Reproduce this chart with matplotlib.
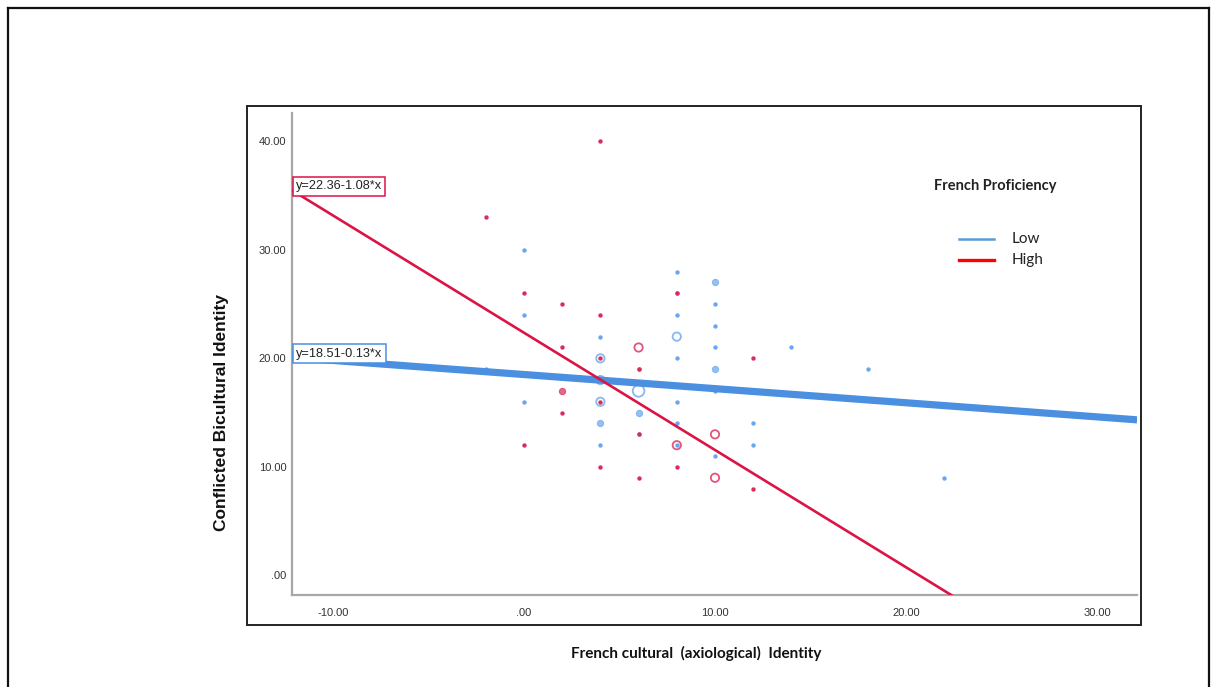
import matplotlib
matplotlib.use("Agg")
import matplotlib.pyplot as plt
from matplotlib.lines import Line2D
from matplotlib.patches import Rectangle
import numpy as np

# group: Low French proficiency (x, y, number of cases at the spot)
low_x = [-2, 0, 0, 0, 4, 4, 4, 4, 4, 4, 6, 6, 6, 6, 8, 8, 8, 8, 8, 8, 8, 8,
         10, 10, 10, 10, 10, 10, 10, 12, 12, 14, 18, 22]
low_y = [19, 30, 24, 16, 22, 20, 18, 16, 14, 12, 17, 15, 19, 13, 28, 26, 24, 22, 20, 16, 14, 12,
         27, 25, 23, 21, 19, 17, 11, 14, 12, 21, 19, 9]
low_n = [1, 1, 1, 1, 1, 3, 3, 3, 2, 1, 4, 2, 1, 1, 1, 1, 1, 3, 1, 1, 1, 1,
         2, 1, 1, 1, 2, 1, 1, 1, 1, 1, 1, 1]

# group: High French proficiency
high_x = [-2, 0, 0, 2, 2, 2, 2, 4, 4, 4, 4, 4, 6, 6, 6, 6, 8, 8, 8, 10, 10, 12, 12]
high_y = [33, 26, 12, 25, 21, 17, 15, 40, 24, 20, 16, 10, 21, 19, 13, 9, 26, 12, 10, 13, 9, 20, 8]
high_n = [1, 1, 1, 1, 1, 2, 1, 1, 1, 1, 1, 1, 3, 1, 1, 1, 1, 3, 1, 3, 3, 1, 1]

# fit lines reported in the chart
low_fit = (18.51, -0.13)
high_fit = (22.36, -1.08)

x_ticks = [-10, 0, 10, 20, 30]
x_ticklabels = ["-10.00", ".00", "10.00", "20.00", "30.00"]
y_ticks = [0, 10, 20, 30, 40]
y_ticklabels = [".00", "10.00", "20.00", "30.00", "40.00"]

blue = "#4a8fe0"
blue_pt = "#6aa6ee"
red = "#dc1446"
red_pt = "#dc2a5a"

plt.rcParams["font.family"] = ["Liberation Sans", "DejaVu Sans"]

fig = plt.figure(figsize=(12.17, 6.87), dpi=100)

# page border and chart frame
for xs, ys in [([0.0066, 0.0066], [0, 0.9884]), ([0.0066, 0.9934], [0.9884, 0.9884]),
               ([0.9934, 0.9934], [0, 0.9884])]:
    fig.add_artist(Line2D(xs, ys, color="#111111", lw=1.6, transform=fig.transFigure))
fig.add_artist(Rectangle((0.2030, 0.0902), 0.7346, 0.7555, transform=fig.transFigure,
                         fill=False, edgecolor="#222222", lw=1.4))

ax = fig.add_axes([0.2399, 0.1339, 0.6944, 0.7016])
ax.set_xlim(-12.15, 32.1)
ax.set_ylim(-1.8, 42.6)


def draw_points(xs, ys, ns, col):
    xs, ys, ns = np.array(xs), np.array(ys), np.array(ns)
    m = ns == 1
    ax.scatter(xs[m], ys[m], s=10, color=col, lw=0, zorder=3)
    m = ns == 2
    ax.scatter(xs[m], ys[m], s=20, facecolor=col, edgecolor=col, alpha=0.7, lw=0.8, zorder=3)
    m = ns == 3
    ax.scatter(xs[m], ys[m], s=36, facecolor="none", edgecolor=col, alpha=0.8, lw=1.3, zorder=3)
    m = ns == 4
    ax.scatter(xs[m], ys[m], s=70, facecolor="none", edgecolor=col, alpha=0.8, lw=1.3, zorder=3)


draw_points(low_x, low_y, low_n, blue_pt)
draw_points(high_x, high_y, high_n, red_pt)

x0, x1 = ax.get_xlim()
xl = np.array([x0, x1])
ax.plot(xl, low_fit[0] + low_fit[1] * xl, color=blue, lw=5.2, solid_capstyle="butt", zorder=4)
ax.plot(xl, high_fit[0] + high_fit[1] * xl, color=red, lw=1.9, zorder=4)

# equation boxes at the start of each line
for (b, k), col in [(high_fit, red), (low_fit, blue)]:
    ax.text(x0 + 0.22, b + k * x0 + 0.35, "y=%.2f-%.2f*x" % (b, -k), fontsize=9.2,
            color="#222222", va="center", ha="left", zorder=6,
            bbox=dict(boxstyle="square,pad=0.25", facecolor="white", edgecolor=col, lw=1.1))

for s in ["top", "right"]:
    ax.spines[s].set_visible(False)
for s in ["left", "bottom"]:
    ax.spines[s].set_color("#a8a8a8")
    ax.spines[s].set_linewidth(1.6)

ax.set_xticks(x_ticks)
ax.set_xticklabels(x_ticklabels)
ax.set_yticks(y_ticks)
ax.set_yticklabels(y_ticklabels)
ax.tick_params(length=0, labelsize=8, labelcolor="#333333")
ax.tick_params(axis="x", pad=9)
ax.tick_params(axis="y", pad=4)

fig.text(0.182, 0.40, "Conflicted Bicultural Identity", rotation=90, ha="center", va="center",
         fontsize=12.5, fontweight="bold", color="#111111")
fig.text(0.572, 0.049, "French cultural  (axiological)  Identity", ha="center", va="center",
         fontsize=11, fontweight="bold", color="#111111", family="Lato")

# legend
fig.text(0.818, 0.729, "French Proficiency", ha="center", va="center", fontsize=10.5,
         fontweight="bold", color="#222222", family="Lato")
for yy, col, lab in [(0.652, "#5b9bd5", "Low"), (0.622, "#ff0000", "High")]:
    fig.add_artist(Line2D([0.788, 0.817], [yy, yy], color=col, lw=1.8 if lab == "Low" else 2.4,
                          transform=fig.transFigure))
    fig.text(0.831, yy, lab, ha="left", va="center", fontsize=11, color="#222222", family="Lato")

fig.savefig("out.png", dpi=100, facecolor="white")
